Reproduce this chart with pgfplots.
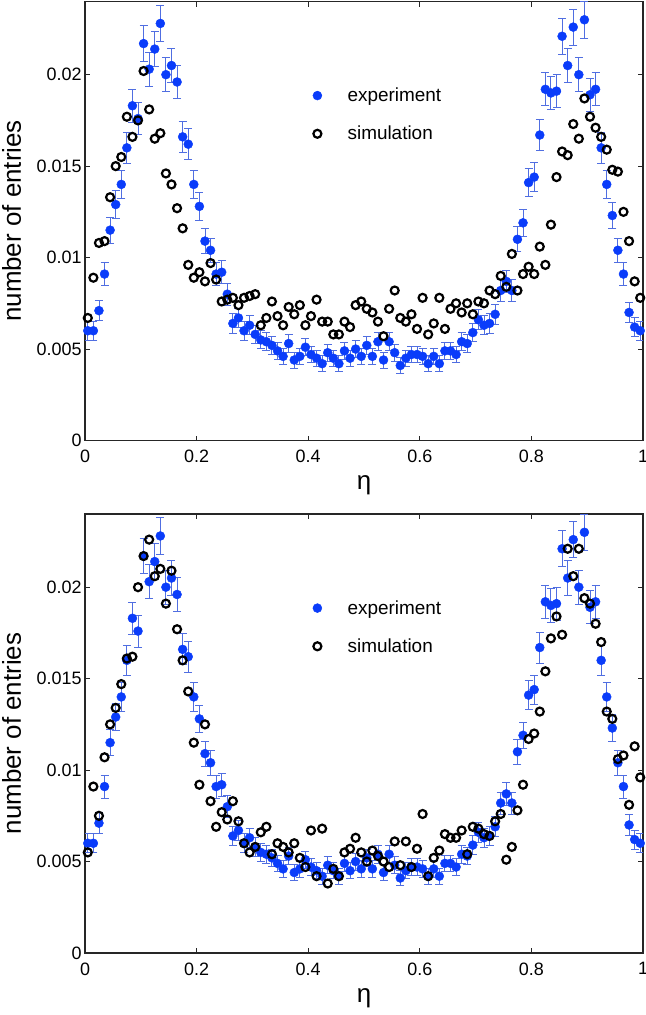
\documentclass[border=0pt]{standalone}
\usepackage{fontspec}
\setmainfont{Liberation Sans}
\usepackage{pgfplots}
\usepackage{pgfplotstable}
\pgfplotsset{compat=1.18}
\definecolor{expblue}{RGB}{10,60,250}
\definecolor{errblue}{RGB}{80,110,225}

\pgfplotstableread{
x y e
0.005 0.0060 0.00051
0.015 0.0060 0.00051
0.025 0.0071 0.00056
0.035 0.0091 0.00063
0.045 0.0115 0.00071
0.055 0.0129 0.00075
0.065 0.0140 0.00078
0.075 0.0160 0.00083
0.085 0.0183 0.00089
0.095 0.0176 0.00088
0.105 0.0217 0.00097
0.115 0.0203 0.00094
0.125 0.0214 0.00097
0.135 0.0228 0.00100
0.145 0.0200 0.00093
0.155 0.0205 0.00094
0.165 0.0196 0.00092
0.175 0.0166 0.00085
0.185 0.0162 0.00084
0.195 0.0140 0.00078
0.205 0.0128 0.00075
0.215 0.0109 0.00069
0.225 0.0104 0.00067
0.235 0.0091 0.00063
0.245 0.0092 0.00063
0.255 0.0080 0.00059
0.265 0.0064 0.00053
0.275 0.0067 0.00054
0.285 0.0060 0.00051
0.295 0.0063 0.00052
0.305 0.0058 0.00050
0.315 0.0055 0.00049
0.325 0.0054 0.00048
0.335 0.0052 0.00048
0.345 0.0049 0.00046
0.355 0.0046 0.00045
0.365 0.0053 0.00048
0.375 0.0044 0.00044
0.385 0.0046 0.00045
0.395 0.0051 0.00047
0.405 0.0047 0.00045
0.415 0.0045 0.00044
0.425 0.0042 0.00043
0.435 0.0048 0.00046
0.445 0.0045 0.00044
0.455 0.0042 0.00043
0.465 0.0049 0.00046
0.475 0.0045 0.00044
0.485 0.0050 0.00047
0.495 0.0046 0.00045
0.505 0.0052 0.00048
0.515 0.0046 0.00045
0.525 0.0054 0.00048
0.535 0.0044 0.00044
0.545 0.0054 0.00048
0.555 0.0048 0.00046
0.565 0.0041 0.00042
0.575 0.0045 0.00044
0.585 0.0047 0.00045
0.595 0.0047 0.00045
0.605 0.0046 0.00045
0.615 0.0042 0.00043
0.625 0.0046 0.00045
0.635 0.0042 0.00043
0.645 0.0049 0.00046
0.655 0.0049 0.00046
0.665 0.0047 0.00045
0.675 0.0054 0.00048
0.685 0.0053 0.00048
0.695 0.0059 0.00051
0.705 0.0066 0.00054
0.715 0.0063 0.00052
0.725 0.0064 0.00053
0.735 0.0069 0.00055
0.745 0.0082 0.00060
0.755 0.0087 0.00062
0.765 0.0082 0.00060
0.775 0.0110 0.00069
0.785 0.0119 0.00072
0.795 0.0141 0.00078
0.805 0.0144 0.00079
0.815 0.0167 0.00085
0.825 0.0192 0.00091
0.835 0.0190 0.00091
0.845 0.0191 0.00091
0.855 0.0221 0.00098
0.865 0.0205 0.00094
0.875 0.0226 0.00099
0.885 0.0200 0.00093
0.895 0.0230 0.00100
0.905 0.0189 0.00091
0.915 0.0192 0.00091
0.925 0.0160 0.00083
0.935 0.0140 0.00078
0.945 0.0123 0.00073
0.955 0.0104 0.00067
0.965 0.0091 0.00063
0.975 0.0070 0.00055
0.985 0.0062 0.00052
0.995 0.0060 0.00051
}\exptable

\pgfplotstableread{
x y
0.005 0.0067
0.015 0.0089
0.025 0.0108
0.035 0.0109
0.045 0.0133
0.055 0.0150
0.065 0.0155
0.075 0.0177
0.085 0.0166
0.095 0.0175
0.105 0.0202
0.115 0.0181
0.125 0.0165
0.135 0.0168
0.145 0.0146
0.155 0.0140
0.165 0.0127
0.175 0.0116
0.185 0.0096
0.195 0.0089
0.205 0.0092
0.215 0.0087
0.225 0.0097
0.235 0.0088
0.245 0.0076
0.255 0.0077
0.265 0.0078
0.275 0.0074
0.285 0.0078
0.295 0.0079
0.305 0.0080
0.315 0.0063
0.325 0.0067
0.335 0.0076
0.345 0.0068
0.355 0.0063
0.365 0.0073
0.375 0.0069
0.385 0.0074
0.395 0.0063
0.405 0.0068
0.415 0.0077
0.425 0.0065
0.435 0.0065
0.445 0.0058
0.455 0.0058
0.465 0.0065
0.475 0.0062
0.485 0.0074
0.495 0.0076
0.505 0.0072
0.515 0.0070
0.525 0.0065
0.535 0.0057
0.545 0.0072
0.555 0.0082
0.565 0.0067
0.575 0.0065
0.585 0.0069
0.595 0.0061
0.605 0.0078
0.615 0.0058
0.625 0.0064
0.635 0.0078
0.645 0.0061
0.655 0.0072
0.665 0.0075
0.675 0.0070
0.685 0.0075
0.695 0.0069
0.705 0.0076
0.715 0.0075
0.725 0.0082
0.735 0.0080
0.745 0.0090
0.755 0.0084
0.765 0.0102
0.775 0.0082
0.785 0.0091
0.795 0.0095
0.805 0.0091
0.815 0.0106
0.825 0.0096
0.835 0.0118
0.845 0.0144
0.855 0.0158
0.865 0.0156
0.875 0.0173
0.885 0.0165
0.895 0.0187
0.905 0.0177
0.915 0.0171
0.925 0.0166
0.935 0.0159
0.945 0.0148
0.955 0.0147
0.965 0.0125
0.975 0.0109
0.985 0.0087
0.995 0.0078
}\simA

\pgfplotstableread{
x y
0.005 0.0055
0.015 0.0091
0.025 0.0075
0.035 0.0107
0.045 0.0125
0.055 0.0134
0.065 0.0147
0.075 0.0161
0.085 0.0162
0.095 0.0200
0.105 0.0217
0.115 0.0226
0.125 0.0206
0.135 0.0210
0.145 0.0191
0.155 0.0209
0.165 0.0177
0.175 0.0160
0.185 0.0143
0.195 0.0115
0.205 0.0092
0.215 0.0125
0.225 0.0083
0.235 0.0069
0.245 0.0077
0.255 0.0073
0.265 0.0083
0.275 0.0072
0.285 0.0060
0.295 0.0055
0.305 0.0058
0.315 0.0066
0.325 0.0069
0.335 0.0054
0.345 0.0060
0.355 0.0058
0.365 0.0055
0.375 0.0060
0.385 0.0052
0.395 0.0047
0.405 0.0067
0.415 0.0042
0.425 0.0068
0.435 0.0038
0.445 0.0046
0.455 0.0042
0.465 0.0055
0.475 0.0057
0.485 0.0063
0.495 0.0055
0.505 0.0050
0.515 0.0056
0.525 0.0053
0.535 0.0050
0.545 0.0047
0.555 0.0061
0.565 0.0048
0.575 0.0061
0.585 0.0047
0.595 0.0057
0.605 0.0076
0.615 0.0042
0.625 0.0052
0.635 0.0056
0.645 0.0065
0.655 0.0063
0.665 0.0063
0.675 0.0067
0.685 0.0054
0.695 0.0069
0.705 0.0068
0.715 0.0065
0.725 0.0064
0.735 0.0072
0.745 0.0076
0.755 0.0051
0.765 0.0058
0.775 0.0078
0.785 0.0092
0.795 0.0117
0.805 0.0120
0.815 0.0132
0.825 0.0154
0.835 0.0172
0.845 0.0184
0.855 0.0174
0.865 0.0221
0.875 0.0206
0.885 0.0221
0.895 0.0194
0.905 0.0191
0.915 0.0180
0.925 0.0170
0.935 0.0132
0.945 0.0128
0.955 0.0106
0.965 0.0108
0.975 0.0081
0.985 0.0113
0.995 0.0096
}\simB

\pgfplotsset{
  panel/.style={
    scale only axis, width=558bp, height=439bp,
    xmin=0, xmax=1, ymin=0, ymax=0.024,
    scaled x ticks=false, scaled y ticks=false,
    xtick={0,0.2,0.4,0.6,0.8,1}, xticklabels={0,0.2,0.4,0.6,0.8,1},
    ytick={0,0.005,0.01,0.015,0.02}, yticklabels={0,0.005,0.01,0.015,0.02},
    tick align=inside, xtick pos=both, ytick pos=both, major tick length=5bp,
    axis line style={line width=1.1bp, color=black!85},
    every tick/.style={line width=0.9bp, black!85},
    tick label style={font=\fontsize{18}{21}\selectfont},
    xticklabel style={yshift=-6bp},
    label style={font=\fontsize{26}{30}\selectfont},
    xlabel={η},
    ylabel={number of entries},
    xlabel style={at={(axis description cs:0.5,0)}, anchor=center, yshift=-45bp},
    ylabel style={at={(axis description cs:-0.1317,0.5)}, anchor=center},
    legend style={draw=none, fill=none, at={(axis description cs:0.4068,0.808)}, anchor=north west,
      font=\fontsize{19}{22}\selectfont, row sep=19bp, inner sep=0pt},
    legend cell align=left,
    legend image code/.code={\draw[##1] plot coordinates {(0bp,0bp)}; \path (-5bp,0bp) (28bp,0bp);},
  },
  expplot/.style={only marks, mark=*, mark size=4.5bp, color=expblue,
    mark options={draw=expblue, fill=expblue},
    error bars/.cd, y dir=both, y explicit,
    error bar style={errblue, line width=0.9bp},
    error mark options={rotate=90, errblue, mark size=4bp, line width=0.9bp}},
  simplot/.style={only marks, mark=o, mark size=4bp, color=black,
    mark options={draw=black, line width=2.2bp, fill=none}},
}

\begin{document}
\begin{tikzpicture}
\useasboundingbox (0,0) rectangle (646bp,-1015bp);
\begin{axis}[panel, at={(85bp,-1.5bp)}, anchor=north west]
\addplot[expplot] table[x=x, y=y, y error=e] {\exptable};
\addplot[simplot] table[x=x, y=y] {\simA};
\legend{experiment, simulation}
\end{axis}
\begin{axis}[panel, at={(85bp,-514bp)}, anchor=north west]
\addplot[expplot] table[x=x, y=y, y error=e] {\exptable};
\addplot[simplot] table[x=x, y=y] {\simB};
\legend{experiment, simulation}
\end{axis}
\end{tikzpicture}
\end{document}
